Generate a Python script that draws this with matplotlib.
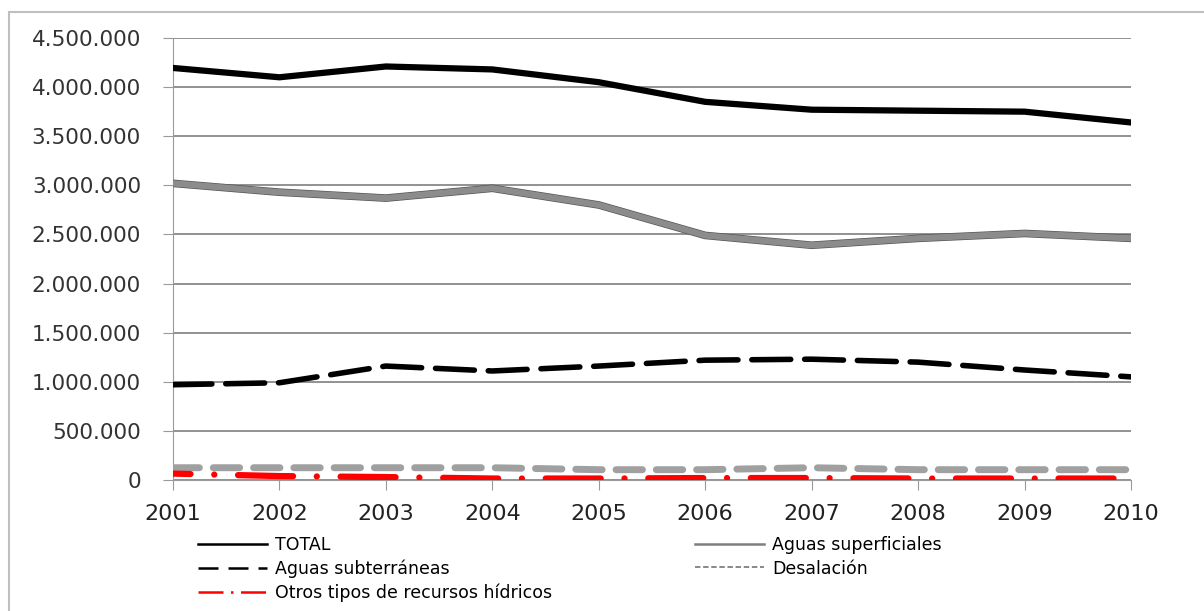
import numpy as np
import matplotlib.pyplot as plt
from matplotlib.lines import Line2D
from matplotlib.patches import Rectangle
import matplotlib.patheffects as pe
from matplotlib.ticker import FuncFormatter

years = [2001, 2002, 2003, 2004, 2005, 2006, 2007, 2008, 2009, 2010]
total = [4195000, 4100000, 4210000, 4180000, 4050000, 3850000, 3770000, 3760000, 3750000, 3640000]
superficiales = [3020000, 2930000, 2870000, 2970000, 2800000, 2490000, 2390000, 2460000, 2510000, 2460000]
subterraneas = [970000, 990000, 1160000, 1110000, 1160000, 1220000, 1230000, 1200000, 1120000, 1050000]
desalacion = [125000, 125000, 125000, 125000, 105000, 105000, 125000, 105000, 105000, 105000]
otros = [65000, 40000, 30000, 15000, 15000, 20000, 20000, 15000, 15000, 15000]
labels = ['TOTAL', 'Aguas superficiales', 'Aguas subterráneas', 'Desalación',
          'Otros tipos de recursos hídricos']

fig = plt.figure(figsize=(12.04, 6.11), dpi=100)
ax = fig.add_axes([173/1204, 1-480/611, (1131-173)/1204, (480-38)/611])

# outer frame of the chart area
fig.patches.append(Rectangle((9/1204, -0.1), 1.2, 1-12/611+0.1, transform=fig.transFigure,
                             fill=False, edgecolor='#bfbfbf', linewidth=1.5))

x = np.array(years)
ax.plot(x, total, c='k', lw=4.5, solid_capstyle='round', zorder=5)
ax.plot(x, superficiales, c='#8c8c8c', lw=4.5, solid_capstyle='round', zorder=4,
        path_effects=[pe.Stroke(linewidth=5.5, foreground='#555555'), pe.Normal()])
ax.plot(x, subterraneas, c='k', lw=4, linestyle=(0, (7, 2.5)), dash_capstyle='round', zorder=4)
ax.plot(x, desalacion, c='#a0a0a0', lw=5, linestyle=(0, (3.8, 2.0)), dash_capstyle='round', zorder=3)
ax.plot(x, otros, c='#ff0000', lw=4.5, linestyle=(6, (8.8, 3.8, 0.01, 3.8)),
        dash_capstyle='round', zorder=3)

ax.set_xlim(2001, 2010)
ax.set_ylim(0, 4500000)
ax.set_yticks(np.arange(0, 4500001, 500000))
ax.set_xticks(years)
ax.yaxis.set_major_formatter(FuncFormatter(lambda v, p: f'{int(v):,}'.replace(',', '.')))
ax.grid(axis='y', color='#7f7f7f', lw=1.2)
ax.set_axisbelow(True)
for s in ['top', 'right']:
    ax.spines[s].set_visible(False)
ax.spines['left'].set_color('#9a9a9a')
ax.spines['bottom'].set_color('#9a9a9a')
ax.tick_params(axis='y', length=7, color='#9a9a9a', pad=16, labelsize=15.5, labelcolor='#333333')
ax.tick_params(axis='x', length=7, color='#9a9a9a', pad=10, labelsize=16, labelcolor='#222222')

handles = [
    Line2D([], [], c='k', lw=1.8),
    Line2D([], [], c='k', lw=1.8, linestyle=(0, (8, 4))),
    Line2D([], [], c='#ff0000', lw=1.8, linestyle=(0, (10, 3, 1, 3))),
    Line2D([], [], c='#7f7f7f', lw=1.8),
    Line2D([], [], c='#7f7f7f', lw=1.3, linestyle=(0, (3, 1.5))),
]
hl = [labels[0], labels[2], labels[4], labels[1], labels[3]]
fig.legend(handles, hl, loc='upper left', bbox_to_anchor=(198/1204, 1-536/611), ncol=2,
           frameon=False, fontsize=12.5, handlelength=4.0, handletextpad=0.45,
           columnspacing=8.2, labelspacing=0.32, borderpad=0, borderaxespad=0)

fig.savefig('out.png', dpi=100)
